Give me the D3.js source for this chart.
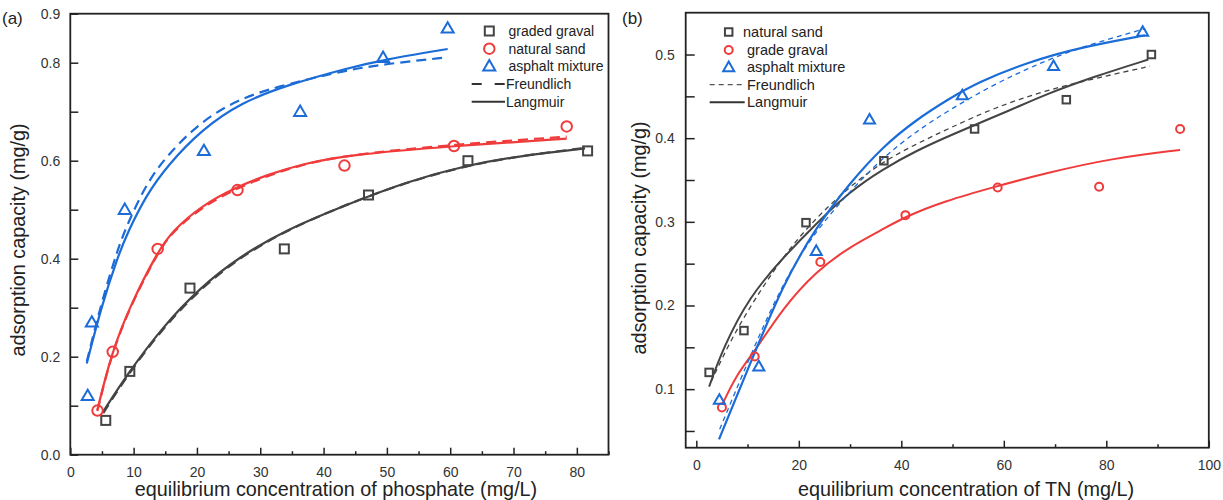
<!DOCTYPE html>
<html><head><meta charset="utf-8">
<script src="https://cdn.jsdelivr.net/npm/d3@7"></script>
<style>
body{margin:0;background:#fff;}
text{font-family:"Liberation Sans",Arial,sans-serif;}
</style></head>
<body><svg id="c" width="1223" height="500"></svg>
<script>
// ---------- Panel (a): phosphate ----------
const aGradedX = [5.6, 9.4, 18.9, 33.8, 47.1, 62.8, 81.7];
const aGradedY = [0.07, 0.17, 0.34, 0.42, 0.53, 0.60, 0.62];
const aSandX = [4.3, 6.7, 13.8, 26.4, 43.3, 60.6, 78.4];
const aSandY = [0.09, 0.21, 0.42, 0.54, 0.59, 0.63, 0.67];
const aAsphX = [2.75, 3.4, 8.6, 21.1, 36.3, 49.4, 59.6];
const aAsphY = [0.12, 0.27, 0.50, 0.62, 0.70, 0.81, 0.87];
// fitted curves
const aLangGraded = [[5.2,0.088],[9.1,0.166],[14.6,0.261],[20.4,0.34],[26.7,0.404],[34.1,0.459],[43.8,0.511],[53.1,0.557],[62.6,0.591],[71.6,0.611],[81.3,0.625]];
const aFreuGraded = [[5.2,0.085],[9.1,0.164],[14.6,0.258],[20.4,0.337],[26.7,0.402],[34.1,0.458],[43.8,0.512],[53.1,0.556],[62.6,0.590],[71.6,0.611],[81.3,0.626]];
const aLangSand = [[4.27,0.091],[6.48,0.207],[9.64,0.31],[13.85,0.415],[16,0.455],[20.7,0.508],[26,0.545],[31.3,0.572],[36.6,0.593],[43.9,0.612],[60.5,0.630],[78.4,0.645]];
const aFreuSand = [[4.27,0.089],[6.48,0.205],[9.64,0.308],[13.85,0.413],[16,0.453],[20.7,0.505],[26,0.542],[31.3,0.570],[36.6,0.592],[43.9,0.612],[60.5,0.633],[78.4,0.649]];
const aLangAsph = [[2.6,0.186],[4.9,0.302],[7.5,0.404],[9.0,0.452],[12,0.53],[15.4,0.591],[20.7,0.663],[27,0.719],[34.4,0.755],[43.8,0.789],[49.5,0.806],[59.6,0.828]];
const aFreuAsph = [[2.6,0.19],[4.9,0.31],[7.5,0.42],[9.0,0.47],[12,0.553],[15.4,0.613],[20.7,0.681],[27,0.729],[34.4,0.757],[43.8,0.785],[49.5,0.797],[59.6,0.811]];
const aXTicks = [0,10,20,30,40,50,60,70,80];
const aYTicks = [0.0,0.2,0.4,0.6,0.8,0.9];

// ---------- Panel (b): TN ----------
const bSandX = [2.5, 9.3, 21.4, 36.6, 54.3, 72.2, 88.8];
const bSandY = [0.12, 0.17, 0.299, 0.373, 0.411, 0.446, 0.50];
const bGravX = [5.0, 11.4, 24.2, 40.8, 58.8, 78.6, 94.4];
const bGravY = [0.078, 0.139, 0.252, 0.308, 0.341, 0.342, 0.411];
const bAsphX = [4.5, 12.2, 23.4, 33.8, 51.9, 69.7, 87.1];
const bAsphY = [0.087, 0.127, 0.265, 0.422, 0.451, 0.486, 0.527];
const bLangSand = [[2.5,0.103],[5.2,0.149],[10.4,0.211],[16.9,0.257],[23.4,0.298],[29.9,0.336],[36.4,0.363],[42.9,0.385],[50.1,0.405],[61.5,0.434],[68,0.452],[77.8,0.474],[88.2,0.494]];
const bFreuSand = [[2.9,0.109],[7.2,0.165],[12.4,0.217],[17.6,0.264],[23.4,0.305],[29.9,0.342],[36.4,0.372],[42.9,0.393],[49.4,0.412],[58,0.436],[68,0.457],[78.9,0.473],[88.5,0.486]];
const bLangGrav = [[5.07,0.0815],[7.8,0.117],[11.4,0.145],[16.9,0.197],[23.4,0.241],[29.9,0.270],[36.4,0.291],[40.7,0.306],[48.5,0.325],[58.3,0.342],[68,0.358],[81.1,0.376],[94.4,0.386]];
const bLangAsph = [[4.43,0.040],[10.4,0.129],[16.9,0.225],[23.4,0.294],[29.9,0.346],[36.4,0.39],[42.9,0.422],[49.3,0.447],[55,0.467],[64.8,0.491],[74.5,0.508],[87.6,0.523]];
const bFreuAsph = [[4.56,0.052],[10.4,0.138],[16.9,0.228],[23.4,0.290],[29.9,0.336],[36.4,0.377],[42.9,0.408],[49.4,0.434],[58.3,0.465],[66,0.487],[74.5,0.508],[87.6,0.531]];
const bXTicks = [0,20,40,60,80,100];
const bYTicks = [0.1,0.2,0.3,0.4,0.5];

const GRAY = "#444444", RED = "#ef3b3b", BLUE = "#1c6cd8", FRAME = "#222";
const svg = d3.select("#c");

function panel(o){
  const g = svg.append("g");
  const x = d3.scaleLinear().domain(o.xd).range(o.xr);
  const y = d3.scaleLinear().domain(o.yd).range(o.yr);
  g.append("g").attr("transform",`translate(0,${o.yr[0]})`)
    .call(d3.axisBottom(x).tickValues(o.xMinor).tickSize(-3.5).tickFormat(""))
    .call(s=>s.select(".domain").remove());
  g.append("g").attr("transform",`translate(0,${o.yr[0]})`)
    .call(d3.axisBottom(x).tickValues(o.xMajor).tickSize(-7).tickPadding(12).tickFormat(d=>d))
    .call(s=>s.select(".domain").remove());
  g.append("g").attr("transform",`translate(${o.xr[0]},0)`)
    .call(d3.axisLeft(y).tickValues(o.yAll).tickSize(-o.ytick).tickPadding(o.ypad).tickFormat(d=> o.yLab.some(v=>Math.abs(v-d)<1e-9) ? d.toFixed(1) : ""))
    .call(s=>s.select(".domain").remove());
  g.selectAll(".tick line").attr("stroke",FRAME).attr("stroke-width",1.5);
  g.selectAll(".tick text").attr("fill","#333").style("font-size","14px").style("font-family","Liberation Sans, Arial, sans-serif");
  g.append("rect").attr("x",o.xr[0]).attr("y",o.yr[1]).attr("width",o.xr[1]-o.xr[0]).attr("height",o.yr[0]-o.yr[1])
    .attr("fill","none").attr("stroke",FRAME).attr("stroke-width",1.8);
  const line = d3.line().x(d=>x(d[0])).y(d=>y(d[1])).curve(d3.curveBasis);
  o.curves.forEach(c=>{
    g.append("path").attr("d",line(c.pts)).attr("fill","none").attr("stroke",c.color)
      .attr("stroke-width",c.w).attr("stroke-dasharray",c.dash||null);
  });
  o.series.forEach(s=>{
    s.xs.forEach((xv,i)=>drawMarker(g, s.shape, x(xv), y(s.ys[i]), s.color, s.size));
  });
  return {x,y,g};
}

function drawMarker(g, shape, cx, cy, color, size){
  if(shape==="square"){
    g.append("rect").attr("x",cx-size/2).attr("y",cy-size/2).attr("width",size).attr("height",size)
      .attr("fill","none").attr("stroke",color).attr("stroke-width",2);
  } else if(shape==="circle"){
    g.append("circle").attr("cx",cx).attr("cy",cy).attr("r",size/2)
      .attr("fill","none").attr("stroke",color).attr("stroke-width",2);
  } else {
    const h = size*0.87;
    g.append("path").attr("d",`M${cx},${cy-h*0.6}L${cx+size/2},${cy+h*0.4}L${cx-size/2},${cy+h*0.4}Z`)
      .attr("fill","none").attr("stroke",color).attr("stroke-width",2).attr("stroke-linejoin","miter");
  }
}

panel({
  xd:[0,85], xr:[70.3,608.5], yd:[0,0.9], yr:[454.7,13.7],
  xMajor:aXTicks, xMinor:[5,15,25,35,45,55,65,75,85],
  yAll:[0,0.1,0.2,0.3,0.4,0.5,0.6,0.7,0.8,0.9], yLab:aYTicks, ytick:8, ypad:10,
  curves:[
    {pts:aFreuGraded,color:GRAY,w:2.2,dash:"10,6"},
    {pts:aLangGraded,color:GRAY,w:2.2},
    {pts:aFreuSand,color:RED,w:2.2,dash:"10,6"},
    {pts:aLangSand,color:RED,w:2.2},
    {pts:aFreuAsph,color:BLUE,w:2.2,dash:"10,6"},
    {pts:aLangAsph,color:BLUE,w:2.2}
  ],
  series:[
    {xs:aGradedX,ys:aGradedY,shape:"square",color:GRAY,size:9},
    {xs:aSandX,ys:aSandY,shape:"circle",color:RED,size:10.5},
    {xs:aAsphX,ys:aAsphY,shape:"tri",color:BLUE,size:12}
  ]
});

panel({
  xd:[-2.07,100], xr:[685.7,1208.8], yd:[0.03,0.55], yr:[447.7,12.7],
  xMajor:bXTicks, xMinor:[10,30,50,70,90],
  yAll:[0.05,0.1,0.15,0.2,0.25,0.3,0.35,0.4,0.45,0.5], yLab:bYTicks, ytick:9, ypad:11,
  curves:[
    {pts:bLangSand,color:GRAY,w:2},
    {pts:bFreuSand,color:GRAY,w:1.3,dash:"5,4"},
    {pts:bLangGrav,color:RED,w:2},
    {pts:bLangAsph,color:BLUE,w:2.2},
    {pts:bFreuAsph,color:BLUE,w:1.3,dash:"5,4"}
  ],
  series:[
    {xs:bSandX,ys:bSandY,shape:"square",color:GRAY,size:7.5},
    {xs:bGravX,ys:bGravY,shape:"circle",color:RED,size:8},
    {xs:bAsphX,ys:bAsphY,shape:"tri",color:BLUE,size:11}
  ]
});

// Legends
const aLegend = ["graded graval","natural sand","asphalt mixture","Freundlich","Langmuir"];
const bLegend = ["natural sand","grade graval","asphalt mixture","Freundlich","Langmuir"];
const lg = svg.append("g").style("font-size","14px").attr("fill","#222");
const aRows=[31,48.7,66.3,84,101.7];
drawMarker(lg,"square",489.3,aRows[0],GRAY,9);
drawMarker(lg,"circle",489.3,aRows[1],RED,10.5);
drawMarker(lg,"tri",489.3,aRows[2],BLUE,12);
lg.append("line").attr("x1",471.7).attr("x2",505).attr("y1",aRows[3]).attr("y2",aRows[3]).attr("stroke","#333").attr("stroke-width",2).attr("stroke-dasharray","10,13");
lg.append("line").attr("x1",471.7).attr("x2",505).attr("y1",aRows[4]).attr("y2",aRows[4]).attr("stroke","#333").attr("stroke-width",2);
aLegend.forEach((t,i)=>lg.append("text").attr("x",i<3?508.5:506).attr("y",aRows[i]).attr("dy","0.35em").text(t));
const bRows=[32,50,67.3,84.7,102.3];
drawMarker(lg,"square",728.7,bRows[0],GRAY,7.5);
drawMarker(lg,"circle",728.7,bRows[1],RED,8);
drawMarker(lg,"tri",728.7,bRows[2],BLUE,11);
lg.append("line").attr("x1",709.7).attr("x2",744.7).attr("y1",bRows[3]).attr("y2",bRows[3]).attr("stroke","#555").attr("stroke-width",1.3).attr("stroke-dasharray","5,4");
lg.append("line").attr("x1",709.7).attr("x2",744.7).attr("y1",bRows[4]).attr("y2",bRows[4]).attr("stroke","#333").attr("stroke-width",2);
bLegend.forEach((t,i)=>lg.append("text").attr("x",i===0?743:747).attr("y",bRows[i]).attr("dy","0.35em").style("font-size","14.5px").text(t));

// Titles
const tg = svg.append("g").attr("fill","#222");
tg.append("text").attr("x",336).attr("y",496).attr("text-anchor","middle").style("font-size","19.8px").text("equilibrium concentration of phosphate (mg/L)");
tg.append("text").attr("x",966).attr("y",496).attr("text-anchor","middle").style("font-size","19.8px").text("equilibrium concentration of TN (mg/L)");
tg.append("text").attr("transform","translate(25,240) rotate(-90)").attr("text-anchor","middle").style("font-size","19.8px").text("adsorption capacity (mg/g)");
tg.append("text").attr("transform","translate(646,238) rotate(-90)").attr("text-anchor","middle").style("font-size","19.8px").text("adsorption capacity (mg/g)");
tg.append("text").attr("x",2).attr("y",24).style("font-size","17px").text("(a)");
tg.append("text").attr("x",622).attr("y",24).style("font-size","17px").text("(b)");
</script></body></html>
